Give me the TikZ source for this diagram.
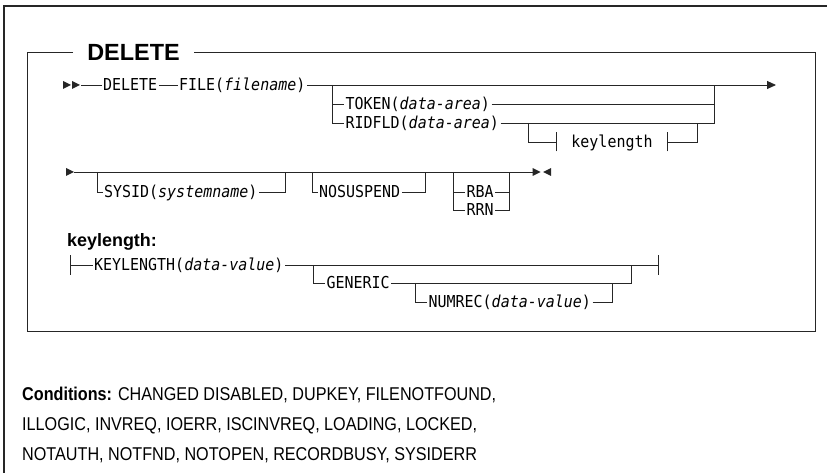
\documentclass[tikz,border=0pt]{standalone}
\usepackage{fontspec}
\setmainfont{Liberation Sans}
\newfontfamily\railfont{DejaVu Sans Mono}
\usetikzlibrary{positioning, arrows.meta}

\tikzset{
  rail/.style={line width=0.9bp, black!85},
  frame/.style={line width=1.3bp, black!85},
  kw/.style={font=\railfont\fontsize{16.5}{16.5}\selectfont, inner xsep=1.5bp, inner ysep=0pt,
             text height=12bp, text depth=0pt, anchor=west},
  ref/.style={kw, anchor=center, inner xsep=15bp},
  ttl/.style={font=\bfseries\fontsize{23.5}{23.5}\selectfont, inner xsep=14bp, inner ysep=0pt,
              text height=16.8bp, text depth=0pt},
  head/.style={font=\bfseries\fontsize{18}{18}\selectfont, inner sep=0pt, anchor=base west},
  cond/.style={font=\fontsize{18.6}{18.6}\selectfont, inner sep=0pt, anchor=base west},
  tip/.style={-{Triangle[length=9bp,width=8bp]}},
}
% narrow set of the rail and condition texts
\newcommand{\rr}[1]{\scalebox{0.91}[1]{#1}}
\newcommand{\cn}[1]{\scalebox{0.873}[1]{#1}}
% small filled triangles for the rail start and end marks
\newcommand{\trir}[1]{\fill[black!85] (#1) ++(0,-4) -- ++(8,4) -- ++(-8,4) -- cycle;}
\newcommand{\tril}[1]{\fill[black!85] (#1) ++(8,-4) -- ++(-8,4) -- ++(8,4) -- cycle;}

\begin{document}
\begin{tikzpicture}[x=1bp, y=-1bp]
  \useasboundingbox (0,0) rectangle (827,473);
  % --- page edge ---
  \draw[frame] (4,473) -- (4,6) -- (827,6);
  % --- syntax box with title ---
  \node[ttl] (title) at (133.5,52) {DELETE};
  \draw[rail] (title.west) -| (27,331) -| (815,52) -- (title.east);

  % --- row 1 ---
  \trir{63,85} \trir{72,85}
  \coordinate (r1in) at (81,85);
  \node[kw] (del) at (101.5,85) {\rr{DELETE}};
  \node[kw] (file) at (177.5,85) {\rr{FILE(\textit{filename})}};
  \coordinate (a1) at (332,85);
  \coordinate (b1) at (714,85);
  \coordinate (r1out) at (776,85);
  \draw[rail] (r1in) -- (del.west);
  \draw[rail] (del.east) -- (file.west);
  \draw[rail, tip] (file.east) -- (r1out);
  \node[kw] (token) at (344,104) {\rr{TOKEN(\textit{data-area})}};
  \node[kw] (ridfld) at (344,123) {\rr{RIDFLD(\textit{data-area})}};
  \draw[rail] (a1) |- (ridfld.west);
  \draw[rail] (a1 |- token.west) -- (token.west);
  \draw[rail] (token.east) -- (token.east -| b1);
  \draw[rail] (ridfld.east) -| (b1);
  % keylength reference
  \coordinate (k1) at (528,123);
  \coordinate (k2) at (697,123);
  \node[ref] (kref) at (612,142) {\rr{keylength}};
  \draw[rail] (k1) |- (kref.west);
  \draw[rail] (kref.east) -| (k2);
  \draw[rail] ([yshift=-9.5bp]kref.west) -- ([yshift=9.5bp]kref.west);
  \draw[rail] ([yshift=-9.5bp]kref.east) -- ([yshift=9.5bp]kref.east);

  % --- row 2 ---
  \trir{66,172}
  \coordinate (r2in) at (74,172);
  \coordinate (r2out) at (532.5,172);
  \draw[rail] (r2in) -- (r2out);
  \trir{532.5,172} \tril{543,172}
  \coordinate (c1) at (97,172);
  \coordinate (c2) at (285,172);
  \node[kw] (sysid) at (102.5,192) {\rr{SYSID(\textit{systemname})}};
  \draw[rail] (c1) |- (sysid.west);
  \draw[rail] (sysid.east) -| (c2);
  \coordinate (c3) at (312,172);
  \coordinate (c4) at (425,172);
  \node[kw] (nosusp) at (317.5,192) {\rr{NOSUSPEND}};
  \draw[rail] (c3) |- (nosusp.west);
  \draw[rail] (nosusp.east) -| (c4);
  \coordinate (c5) at (453,172);
  \coordinate (c6) at (509,172);
  \node[kw] (rba) at (465,192) {\rr{RBA}};
  \node[kw] (rrn) at (465,210) {\rr{RRN}};
  \draw[rail] (c5) |- (rrn.west);
  \draw[rail] (c5 |- rba.west) -- (rba.west);
  \draw[rail] (rba.east) -- (rba.east -| c6);
  \draw[rail] (rrn.east) -| (c6);

  % --- keylength fragment ---
  \node[head] (khead) at (67,246.5) {keylength:};
  \coordinate (d0) at (70,265);
  \coordinate (d1) at (313,265);
  \coordinate (d2) at (631,265);
  \coordinate (d3) at (658,265);
  \node[kw] (klen) at (92.5,265) {\rr{KEYLENGTH(\textit{data-value})}};
  \draw[rail] (d0) -- (klen.west);
  \draw[rail] (klen.east) -- (d3);
  \draw[rail] ([yshift=-10bp]d0) -- ([yshift=10bp]d0);
  \draw[rail] ([yshift=-10bp]d3) -- ([yshift=10bp]d3);
  \node[kw] (generic) at (325,283) {\rr{GENERIC}};
  \draw[rail] (d1) |- (generic.west);
  \draw[rail] (generic.east) -| (d2);
  \coordinate (d4) at (415,283);
  \coordinate (d5) at (612,283);
  \node[kw] (numrec) at (427,302) {\rr{NUMREC(\textit{data-value})}};
  \draw[rail] (d4) |- (numrec.west);
  \draw[rail] (numrec.east) -| (d5);

  % --- conditions ---
  \node[cond] (cond1) at (22,400) {\cn{\textbf{Conditions:} CHANGED DISABLED, DUPKEY, FILENOTFOUND,}};
  \node[cond] (cond2) at (22,430) {\cn{ILLOGIC, INVREQ, IOERR, ISCINVREQ, LOADING, LOCKED,}};
  \node[cond] (cond3) at (22,460) {\cn{NOTAUTH, NOTFND, NOTOPEN, RECORDBUSY, SYSIDERR}};
\end{tikzpicture}
\end{document}
